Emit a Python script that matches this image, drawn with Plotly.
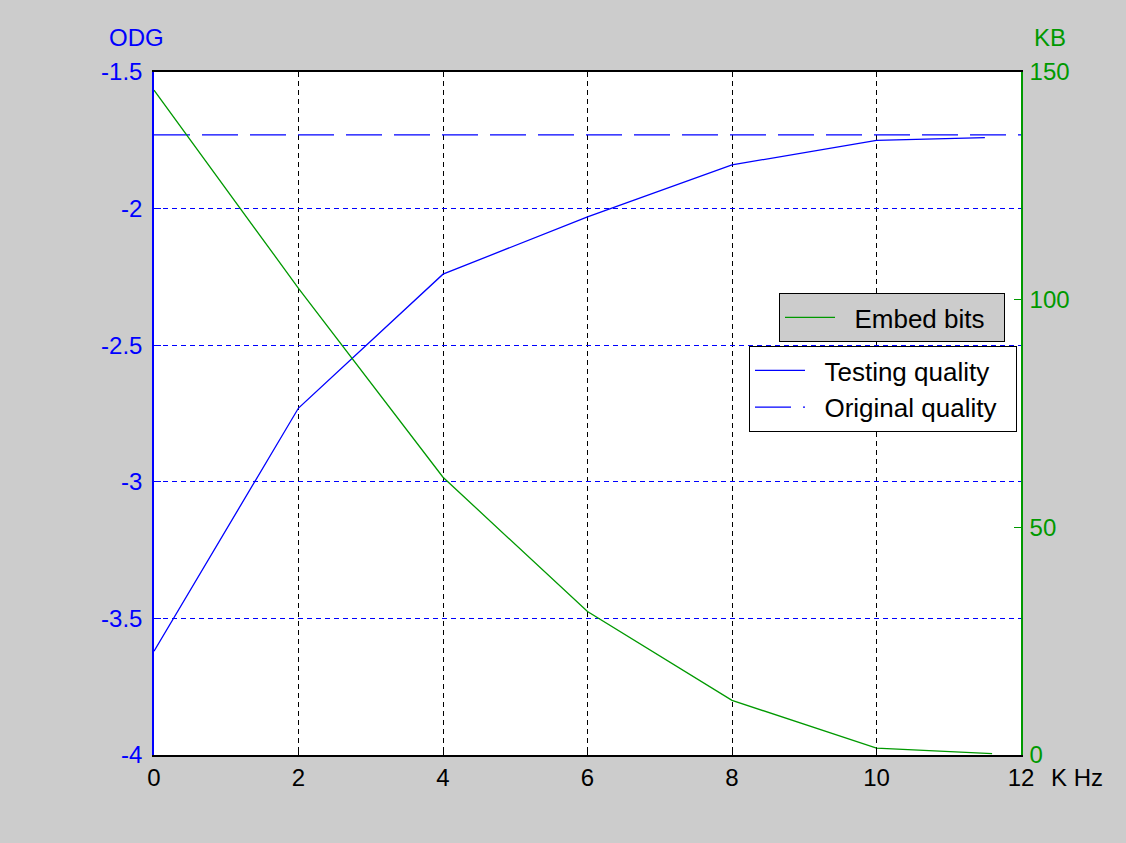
import plotly.graph_objects as go

# Data
freq_test = [0, 2, 4, 6, 8, 10, 11.5]
odg_test = [-3.62, -2.73, -2.24, -2.03, -1.84, -1.75, -1.74]
freq_orig = [0, 12]
odg_orig = [-1.73, -1.73]
freq_bits = [0, 2, 4, 6, 8, 10, 11.6]
kb_bits = [146, 102.5, 61, 31.5, 12, 1.5, 0.3]

x_ticks = [0, 2, 4, 6, 8, 10, 12]
y_ticks = [-4, -3.5, -3, -2.5, -2, -1.5]
y_ticklabels = ["-4", "-3.5", "-3", "-2.5", "-2", "-1.5"]
y2_ticks = [0, 50, 100, 150]

BLUE = "#0000ff"
GREEN = "#009900"
BG = "#cccccc"
FONT = "Liberation Sans, Arial, sans-serif"
FS = 24
LFS = 26
NB = "\u00a0\u00a0"

fig = go.Figure()
fig.add_trace(go.Scatter(x=freq_test, y=odg_test, mode="lines", name=NB + "Testing quality" + NB,
                         line=dict(color=BLUE, width=1.3), legend="legend2", showlegend=True))
fig.add_trace(go.Scatter(x=freq_orig, y=odg_orig, mode="lines", name=NB + "Original quality" + NB,
                         line=dict(color=BLUE, width=1.3, dash="36px,12px"), legend="legend2",
                         showlegend=True))
fig.add_trace(go.Scatter(x=freq_bits, y=kb_bits, mode="lines", name=NB + "Embed bits" + NB,
                         line=dict(color=GREEN, width=1.3), yaxis="y2", legend="legend",
                         showlegend=True))

W, H = 1126, 843
ml, mr, mt, mb = 154, 105, 72, 88
pw, ph = W - ml - mr, H - mt - mb

def px2x(px):
    return (px - ml) / pw

def px2y(py):
    return (H - mb - py) / ph

fig.update_layout(
    width=W, height=H, autosize=False, showlegend=True,
    margin=dict(l=ml, r=mr, t=mt, b=mb, pad=0),
    paper_bgcolor=BG, plot_bgcolor="white",
    font=dict(family=FONT, size=FS, color="black"),
    xaxis=dict(range=[0, 12], tickvals=x_ticks, ticks="inside", ticklen=7,
               tickcolor="black", showline=True, linecolor="black", linewidth=1.5,
               mirror=True, showgrid=True, gridcolor="black", griddash="5px,4px",
               gridwidth=1, zeroline=False, ticklabelstandoff=0,
               tickfont=dict(color="black", size=FS)),
    yaxis=dict(range=[-4, -1.5], tickvals=y_ticks, ticktext=y_ticklabels,
               ticks="inside", ticklen=7, tickcolor=BLUE, showline=True, linecolor=BLUE,
               linewidth=1.5, showgrid=True, gridcolor=BLUE, griddash="5px,4px", gridwidth=1,
               zeroline=False, ticklabelstandoff=5, tickfont=dict(color=BLUE, size=FS)),
    yaxis2=dict(range=[0, 150], tickvals=y2_ticks, overlaying="y", side="right",
                ticks="inside", ticklen=7, tickcolor=GREEN, showline=True, linecolor=GREEN,
                linewidth=1.5, showgrid=False, zeroline=False, ticklabelstandoff=2,
                tickfont=dict(color=GREEN, size=FS)),
    legend=dict(x=px2x(779), y=px2y(293), xanchor="left", yanchor="top",
                bgcolor=BG, bordercolor="black", borderwidth=1,
                font=dict(size=LFS, color="black"), itemwidth=50, tracegroupgap=0),
    legend2=dict(x=px2x(749), y=px2y(346), xanchor="left", yanchor="top",
                 bgcolor="white", bordercolor="black", borderwidth=1,
                 font=dict(size=LFS, color="black"), itemwidth=50, tracegroupgap=0),
    annotations=[
        dict(text="ODG", x=px2x(136), y=px2y(37), xref="paper", yref="paper",
             xanchor="center", yanchor="middle",
             showarrow=False, font=dict(color=BLUE, size=FS)),
        dict(text="KB", x=px2x(1050), y=px2y(37), xref="paper", yref="paper",
             xanchor="center", yanchor="middle",
             showarrow=False, font=dict(color=GREEN, size=FS)),
        dict(text="K Hz", x=px2x(1077), y=px2y(777), xref="paper", yref="paper",
             xanchor="center", yanchor="middle",
             showarrow=False, font=dict(color="black", size=FS)),
    ],
)

fig.write_html(
    "out.html",
    config={"displayModeBar": False},
    post_script="document.body.style.margin='0';document.body.style.overflow='hidden';"
                "document.body.style.background='#cccccc';",
)
